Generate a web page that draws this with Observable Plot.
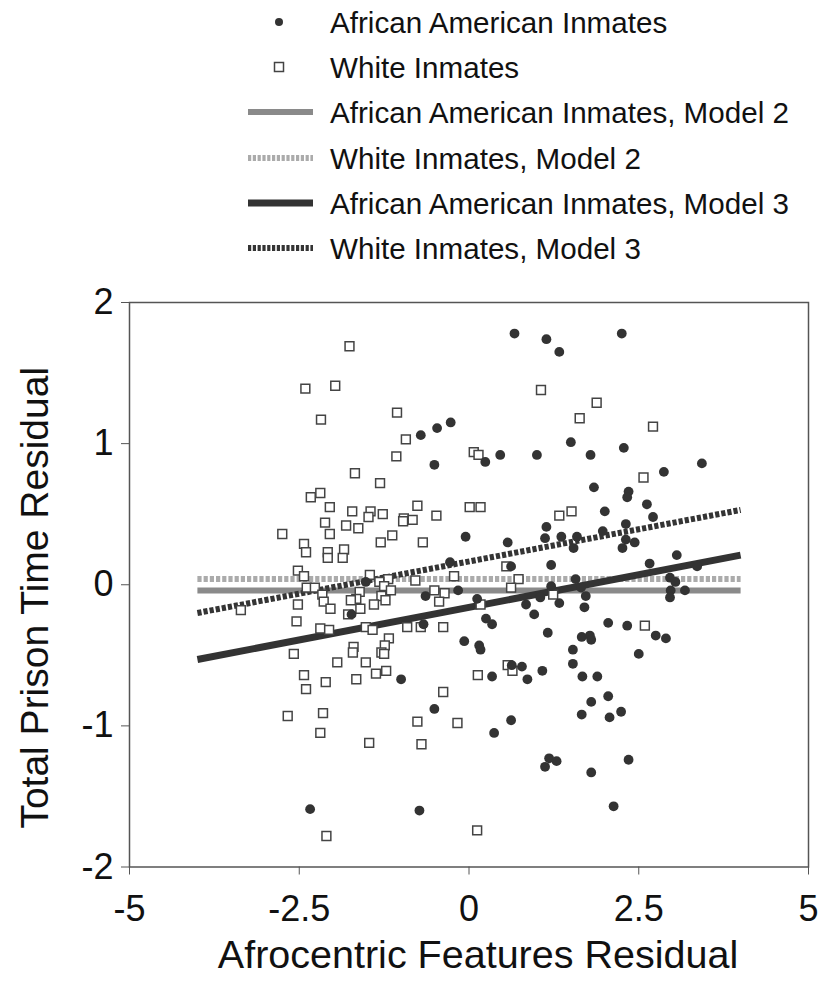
<!DOCTYPE html>
<html><head><meta charset="utf-8">
<script src="https://cdn.jsdelivr.net/npm/d3@7"></script>
<script src="https://cdn.jsdelivr.net/npm/@observablehq/plot@0.6"></script>
<style>
body{margin:0;background:#fff;font-family:"Liberation Sans",Arial,sans-serif;}
#wrap{width:823px;height:992px;position:relative;background:#fff;}
#legend{display:block;}
#chart svg{display:block;}
</style></head><body><div id="wrap"><svg id="legend" width="823" height="285"></svg><div id="chart"></div></div>
<script>
// African American inmates (filled circles)
const aaX = [0.67,1.14,1.33,-0.71,-0.47,-0.27,-0.51,0.24,0.46,1.00,1.50,1.79,1.84,2.25,2.28,2.87,3.43,2.35,2.33,2.00,2.62,2.71,2.31,1.97,2.31,2.44,2.26,2.66,3.06,3.36,2.96,3.04,2.97,3.18,2.96,2.05,2.33,2.75,2.90,2.50,1.14,-0.05,0.57,1.12,1.36,1.59,1.54,-0.28,0.62,1.21,1.57,1.21,1.65,-0.16,-0.64,0.12,1.05,1.72,0.84,1.33,1.70,0.96,0.25,0.34,-0.67,1.16,-0.07,0.15,0.17,1.66,1.78,1.80,1.53,1.53,0.63,0.78,1.08,-1.00,0.34,0.86,1.67,1.89,2.05,1.80,1.66,2.07,2.24,-0.51,0.62,0.37,1.18,1.29,1.12,1.80,-0.73,2.13,2.35,-2.34,-1.52,-1.73];
const aaY = [1.78,1.74,1.65,1.06,1.11,1.15,0.85,0.87,0.92,0.92,1.01,0.92,0.69,1.78,0.97,0.80,0.86,0.66,0.62,0.52,0.57,0.48,0.43,0.38,0.32,0.30,0.26,0.15,0.21,0.13,0.05,0.02,-0.04,-0.04,-0.09,-0.27,-0.29,-0.36,-0.38,-0.49,0.41,0.34,0.30,0.33,0.34,0.34,0.26,0.16,0.13,0.14,0.04,-0.01,-0.02,-0.04,-0.08,-0.10,-0.09,-0.08,-0.14,-0.13,-0.16,-0.21,-0.24,-0.28,-0.28,-0.34,-0.40,-0.43,-0.46,-0.37,-0.36,-0.39,-0.46,-0.56,-0.57,-0.58,-0.61,-0.67,-0.65,-0.67,-0.65,-0.65,-0.79,-0.83,-0.92,-0.94,-0.90,-0.88,-0.96,-1.05,-1.23,-1.25,-1.29,-1.33,-1.60,-1.57,-1.24,-1.59,0.02,-0.21];
// White inmates (open squares)
const whX = [-1.76,-2.41,-1.97,-1.06,-2.18,-1.07,-1.68,-1.31,-2.33,-2.19,-0.93,0.07,0.14,1.06,1.88,1.63,2.71,2.57,-2.05,-1.72,-1.45,-1.48,-1.27,-2.12,-1.81,-1.63,-2.75,-2.05,-1.13,-1.30,-2.43,-2.40,-2.08,-2.08,-1.84,-1.86,-2.52,-2.43,-1.46,-1.19,-1.32,-2.39,-2.27,-2.16,-1.61,-1.25,-1.15,-1.29,-1.66,-2.14,-2.52,-3.36,-2.04,-1.74,-1.60,-1.40,-1.23,-1.78,-2.54,-2.19,-2.06,-1.52,-1.42,-1.18,-1.70,-1.24,-1.71,-1.29,-1.25,-2.58,-1.52,-1.94,-1.37,-1.22,-2.43,-2.11,-1.66,-2.40,-2.67,-2.15,-2.19,-1.47,-2.10,-0.76,-0.96,-0.97,-0.83,-0.48,0.01,0.17,1.33,1.51,-0.68,0.55,-0.79,-0.22,0.73,0.62,-0.51,-0.36,-0.44,0.17,1.24,-0.91,-0.71,-0.38,0.57,0.64,0.13,-0.38,-0.76,-0.17,-0.70,0.12,2.59];
const whY = [1.69,1.39,1.41,1.22,1.17,0.91,0.79,0.72,0.62,0.65,1.03,0.94,0.92,1.38,1.29,1.18,1.12,0.76,0.55,0.52,0.52,0.48,0.50,0.44,0.42,0.40,0.36,0.36,0.35,0.30,0.29,0.23,0.23,0.19,0.25,0.19,0.10,0.06,0.07,0.04,0.02,-0.02,-0.02,-0.07,-0.05,-0.01,-0.04,-0.08,-0.10,-0.12,-0.14,-0.18,-0.17,-0.11,-0.17,-0.14,-0.11,-0.21,-0.26,-0.31,-0.32,-0.30,-0.32,-0.38,-0.44,-0.43,-0.48,-0.48,-0.49,-0.49,-0.55,-0.55,-0.63,-0.61,-0.64,-0.69,-0.67,-0.74,-0.93,-0.91,-1.05,-1.12,-1.78,0.56,0.47,0.45,0.46,0.49,0.55,0.55,0.49,0.52,0.30,0.13,0.03,0.06,0.04,-0.02,-0.04,-0.06,-0.12,-0.14,-0.07,-0.30,-0.30,-0.30,-0.57,-0.61,-0.64,-0.76,-0.97,-0.98,-1.13,-1.74,-0.29];
// Model fit lines: endpoints at x = -4 and x = 4
const lineX = [-4, 4];
const aaModel2 = [-0.04, -0.04];
const whModel2 = [0.04, 0.04];
const aaModel3 = [-0.53, 0.21];
const whModel3 = [-0.20, 0.53];
const xTicks = [-5, -2.5, 0, 2.5, 5];
const yTicks = [-2, -1, 0, 1, 2];
const legendLabels = ["African American Inmates","White Inmates","African American Inmates, Model 2","White Inmates, Model 2","African American Inmates, Model 3","White Inmates, Model 3"];

const styles = [
  {type:"circle"},
  {type:"square"},
  {type:"line", stroke:"#8a8a8a", width:6, dash:null},
  {type:"line", stroke:"#ababab", width:6, dash:"4.2,2"},
  {type:"line", stroke:"#333333", width:7, dash:null},
  {type:"line", stroke:"#343434", width:6, dash:"4.2,2"}
];

// Legend
const leg = d3.select("#legend");
const rowY = [22, 67, 112, 158, 203, 248];
legendLabels.forEach((lab, i) => {
  const y = rowY[i], s = styles[i];
  if (s.type === "circle") leg.append("circle").attr("cx", 279).attr("cy", y).attr("r", 4).attr("fill", "#333");
  else if (s.type === "square") leg.append("rect").attr("x", 274.5).attr("y", y-4.5).attr("width", 9).attr("height", 9).attr("fill", "#fff").attr("stroke", "#444").attr("stroke-width", 1.5);
  else leg.append("line").attr("x1", 248).attr("x2", 313).attr("y1", y).attr("y2", y).attr("stroke", s.stroke).attr("stroke-width", s.width).attr("stroke-dasharray", s.dash ? "3.2,1.6" : null);
  leg.append("text").attr("x", 330).attr("y", y).attr("dy", "0.36em").attr("font-size", 29.6).attr("fill", "#111").attr("font-family", "Liberation Sans, Arial, sans-serif").text(lab);
});

const aa = aaX.map((x, i) => ({x, y: aaY[i]}));
const wh = whX.map((x, i) => ({x, y: whY[i]}));
const mk = arr => lineX.map((x, i) => ({x, y: arr[i]}));
const lineMark = (arr, s) => Plot.line(mk(arr), {x: "x", y: "y", stroke: s.stroke, strokeWidth: s.width, strokeDasharray: s.dash || undefined, strokeLinecap: "butt"});

const chart = Plot.plot({
  width: 823, height: 707,
  marginTop: 17, marginBottom: 125.5, marginLeft: 129, marginRight: 15,
  style: {fontFamily: "Liberation Sans, Arial, sans-serif", background: "white", overflow: "visible"},
  x: {domain: [-5, 5]},
  y: {domain: [-2, 2]},
  marks: [
    lineMark(aaModel2, styles[2]),
    lineMark(whModel2, styles[3]),
    lineMark(aaModel3, styles[4]),
    lineMark(whModel3, styles[5]),
    Plot.dot(wh, {x: "x", y: "y", symbol: "square", r: 5, fill: "white", stroke: "#444", strokeWidth: 1.5}),
    Plot.dot(aa, {x: "x", y: "y", r: 4.9, fill: "#333", stroke: "none"}),
    Plot.frame({stroke: "#555", strokeWidth: 1.5}),
    Plot.axisX({ticks: xTicks, tickFormat: d => String(d), tickSize: 8, tickPadding: 20, fontSize: 36, label: null, stroke: "#555", fill: "#111"}),
    Plot.axisY({ticks: yTicks, tickFormat: d => String(d), tickSize: 8, tickPadding: 8, fontSize: 36, label: null, stroke: "#555", fill: "#111"}),
    Plot.text(["Afrocentric Features Residual"], {frameAnchor: "bottom", dx: 9, dy: 88, textAnchor: "middle", lineAnchor: "middle", text: d => d, fontSize: 39.5, fill: "#111"}),
    Plot.text(["Total Prison Time Residual"], {frameAnchor: "left", dx: -94, dy: 13, textAnchor: "middle", rotate: -90, text: d => d, fontSize: 39, fill: "#111"})
  ]
});
document.getElementById("chart").appendChild(chart);
</script></body></html>
